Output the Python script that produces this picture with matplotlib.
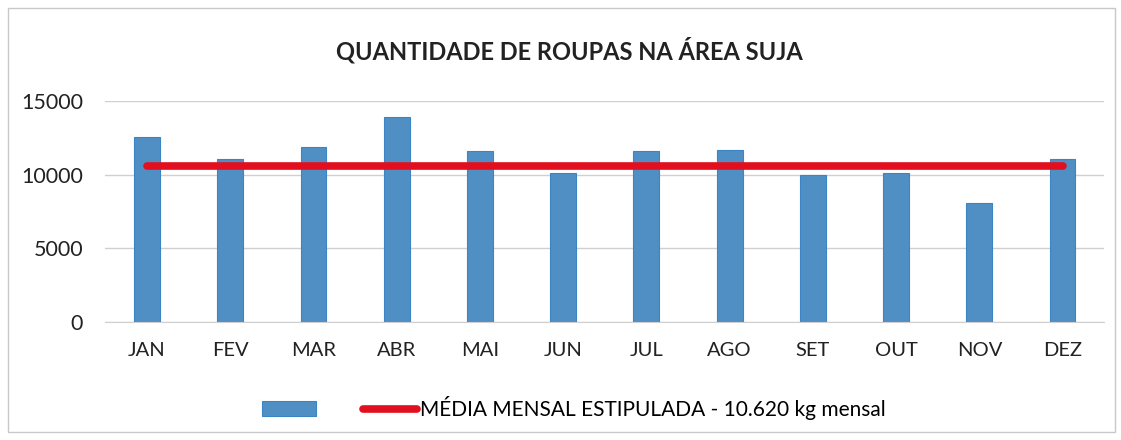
import numpy as np
import matplotlib
matplotlib.use("Agg")
import matplotlib.pyplot as plt
from matplotlib.patches import Rectangle

plt.rcParams['font.family'] = ['Lato', 'DejaVu Sans']

meses = ['JAN', 'FEV', 'MAR', 'ABR', 'MAI', 'JUN', 'JUL', 'AGO', 'SET', 'OUT', 'NOV', 'DEZ']
quantidade = [12600, 11100, 11900, 13900, 11600, 10150, 11600, 11700, 10000, 10150, 8100, 11100]
media = [10620] * 12
titulo = 'QUANTIDADE DE ROUPAS NA ÁREA SUJA'
legenda_media = 'MÉDIA MENSAL ESTIPULADA - 10.620 kg mensal'

fig = plt.figure(figsize=(11.21, 4.4), dpi=100)
fig.patch.set_facecolor('white')
fig.patches.append(Rectangle((0.007, 0.018), 0.988, 0.964, transform=fig.transFigure,
                             fill=False, edgecolor='#c8c8c8', linewidth=1))

ax = fig.add_axes([0.094, 0.268, 0.891, 0.502])
x = np.arange(len(meses))
barras = ax.bar(x, quantidade, width=0.31, color='#4f8fc4', edgecolor='#3b84c6', linewidth=0.8, label=' ')
linha, = ax.plot(x, media, color='#e2101f', linewidth=5.5, solid_capstyle='round', label=legenda_media)

ax.set_xlim(-0.5, len(meses) - 0.5)
ax.set_ylim(0, 15000)
ax.set_yticks([0, 5000, 10000, 15000])
ax.set_xticks(x)
ax.set_xticklabels(meses)
ax.tick_params(axis='both', length=0, labelsize=14.5, colors='#222222')
ax.tick_params(axis='x', pad=14)
ax.tick_params(axis='y', pad=16, labelsize=15.5)
ax.grid(axis='y', color='#d0d0d0', linewidth=1)
ax.set_axisbelow(True)
for s in ['top', 'right', 'left']:
    ax.spines[s].set_visible(False)
ax.spines['bottom'].set_color('#d0d0d0')

fig.text(0.508, 0.886, titulo, ha='center', va='center', fontsize=17, fontweight='bold', color='#222222')

fig.legend(handles=[barras, linha], labels=['', legenda_media], loc='center', bbox_to_anchor=(0.512, 0.073),
           ncol=2, frameon=False, fontsize=15, handlelength=2.6, columnspacing=2.1, handletextpad=0.15)

fig.savefig('out.png', dpi=100)
